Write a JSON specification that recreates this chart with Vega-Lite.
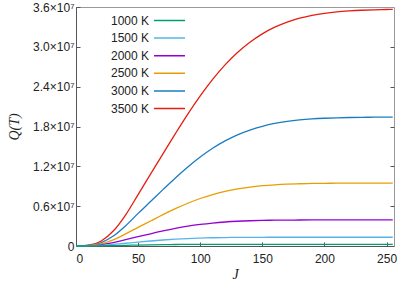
{
  "$schema": "https://vega.github.io/schema/vega-lite/v6.json",
  "width": 318,
  "height": 239,
  "autosize": {"type": "none"},
  "padding": {"left": 76, "top": 7, "right": 5, "bottom": 37},
  "config": {
    "view": {"stroke": "#999999", "strokeWidth": 1},
    "font": "Liberation Sans",
    "axis": {"grid": false, "labelFont": "Liberation Sans", "labelFontSize": 12, "labelColor": "#222222", "domainColor": "#555555", "tickColor": "#555555"},
    "legend": {"labelFont": "Liberation Sans", "labelFontSize": 12, "labelColor": "#222222"}
  },
  "data": {"values": [
    {"J":0,"T":"3500 K","Q":0},{"J":10,"T":"3500 K","Q":0.011e7},{"J":20,"T":"3500 K","Q":0.071e7},{"J":30,"T":"3500 K","Q":0.225e7},{"J":40,"T":"3500 K","Q":0.47e7},{"J":50,"T":"3500 K","Q":0.775e7},{"J":60,"T":"3500 K","Q":1.082e7},{"J":70,"T":"3500 K","Q":1.387e7},{"J":80,"T":"3500 K","Q":1.692e7},{"J":90,"T":"3500 K","Q":1.987e7},{"J":100,"T":"3500 K","Q":2.261e7},{"J":110,"T":"3500 K","Q":2.51e7},{"J":120,"T":"3500 K","Q":2.728e7},{"J":130,"T":"3500 K","Q":2.915e7},{"J":140,"T":"3500 K","Q":3.07e7},{"J":150,"T":"3500 K","Q":3.196e7},{"J":160,"T":"3500 K","Q":3.296e7},{"J":170,"T":"3500 K","Q":3.373e7},{"J":180,"T":"3500 K","Q":3.431e7},{"J":190,"T":"3500 K","Q":3.474e7},{"J":200,"T":"3500 K","Q":3.505e7},{"J":210,"T":"3500 K","Q":3.527e7},{"J":220,"T":"3500 K","Q":3.541e7},{"J":230,"T":"3500 K","Q":3.551e7},{"J":240,"T":"3500 K","Q":3.558e7},{"J":250,"T":"3500 K","Q":3.562e7},{"J":255,"T":"3500 K","Q":3.564e7},
    {"J":0,"T":"3000 K","Q":0},{"J":10,"T":"3000 K","Q":0.0075e7},{"J":20,"T":"3000 K","Q":0.0485e7},{"J":30,"T":"3000 K","Q":0.150e7},{"J":40,"T":"3000 K","Q":0.306e7},{"J":50,"T":"3000 K","Q":0.491e7},{"J":60,"T":"3000 K","Q":0.669e7},{"J":70,"T":"3000 K","Q":0.849e7},{"J":80,"T":"3000 K","Q":1.025e7},{"J":90,"T":"3000 K","Q":1.191e7},{"J":100,"T":"3000 K","Q":1.341e7},{"J":110,"T":"3000 K","Q":1.4725e7},{"J":120,"T":"3000 K","Q":1.583e7},{"J":130,"T":"3000 K","Q":1.675e7},{"J":140,"T":"3000 K","Q":1.747e7},{"J":150,"T":"3000 K","Q":1.803e7},{"J":160,"T":"3000 K","Q":1.846e7},{"J":170,"T":"3000 K","Q":1.877e7},{"J":180,"T":"3000 K","Q":1.899e7},{"J":190,"T":"3000 K","Q":1.914e7},{"J":200,"T":"3000 K","Q":1.924e7},{"J":210,"T":"3000 K","Q":1.931e7},{"J":220,"T":"3000 K","Q":1.9354e7},{"J":230,"T":"3000 K","Q":1.938e7},{"J":240,"T":"3000 K","Q":1.9398e7},{"J":250,"T":"3000 K","Q":1.9407e7},{"J":255,"T":"3000 K","Q":1.941e7},
    {"J":0,"T":"2500 K","Q":0},{"J":10,"T":"2500 K","Q":0.0048e7},{"J":20,"T":"2500 K","Q":0.0306e7},{"J":30,"T":"2500 K","Q":0.0923e7},{"J":40,"T":"2500 K","Q":0.1833e7},{"J":50,"T":"2500 K","Q":0.281e7},{"J":60,"T":"2500 K","Q":0.376e7},{"J":70,"T":"2500 K","Q":0.472e7},{"J":80,"T":"2500 K","Q":0.562e7},{"J":90,"T":"2500 K","Q":0.644e7},{"J":100,"T":"2500 K","Q":0.7155e7},{"J":110,"T":"2500 K","Q":0.775e7},{"J":120,"T":"2500 K","Q":0.823e7},{"J":130,"T":"2500 K","Q":0.860e7},{"J":140,"T":"2500 K","Q":0.8877e7},{"J":150,"T":"2500 K","Q":0.9079e7},{"J":160,"T":"2500 K","Q":0.922e7},{"J":170,"T":"2500 K","Q":0.9317e7},{"J":180,"T":"2500 K","Q":0.938e7},{"J":190,"T":"2500 K","Q":0.9421e7},{"J":200,"T":"2500 K","Q":0.9446e7},{"J":210,"T":"2500 K","Q":0.9461e7},{"J":220,"T":"2500 K","Q":0.9469e7},{"J":230,"T":"2500 K","Q":0.9474e7},{"J":240,"T":"2500 K","Q":0.9477e7},{"J":250,"T":"2500 K","Q":0.9479e7},{"J":255,"T":"2500 K","Q":0.948e7},
    {"J":0,"T":"2000 K","Q":0},{"J":10,"T":"2000 K","Q":0.00274e7},{"J":20,"T":"2000 K","Q":0.01734e7},{"J":30,"T":"2000 K","Q":0.0506e7},{"J":40,"T":"2000 K","Q":0.0963e7},{"J":50,"T":"2000 K","Q":0.1397e7},{"J":60,"T":"2000 K","Q":0.1842e7},{"J":70,"T":"2000 K","Q":0.2269e7},{"J":80,"T":"2000 K","Q":0.2654e7},{"J":90,"T":"2000 K","Q":0.2983e7},{"J":100,"T":"2000 K","Q":0.3252e7},{"J":110,"T":"2000 K","Q":0.3461e7},{"J":120,"T":"2000 K","Q":0.3617e7},{"J":130,"T":"2000 K","Q":0.3728e7},{"J":140,"T":"2000 K","Q":0.3805e7},{"J":150,"T":"2000 K","Q":0.3855e7},{"J":160,"T":"2000 K","Q":0.3886e7},{"J":170,"T":"2000 K","Q":0.39055e7},{"J":180,"T":"2000 K","Q":0.39168e7},{"J":190,"T":"2000 K","Q":0.3923e7},{"J":200,"T":"2000 K","Q":0.39266e7},{"J":210,"T":"2000 K","Q":0.3928e7},{"J":220,"T":"2000 K","Q":0.3929e7},{"J":230,"T":"2000 K","Q":0.393e7},{"J":240,"T":"2000 K","Q":0.393e7},{"J":250,"T":"2000 K","Q":0.393e7},{"J":255,"T":"2000 K","Q":0.393e7},
    {"J":0,"T":"1500 K","Q":0},{"J":10,"T":"1500 K","Q":0.0014e7},{"J":20,"T":"1500 K","Q":0.0087e7},{"J":30,"T":"1500 K","Q":0.0238e7},{"J":40,"T":"1500 K","Q":0.0413e7},{"J":50,"T":"1500 K","Q":0.0585e7},{"J":60,"T":"1500 K","Q":0.0752e7},{"J":70,"T":"1500 K","Q":0.0901e7},{"J":80,"T":"1500 K","Q":0.1025e7},{"J":90,"T":"1500 K","Q":0.1122e7},{"J":100,"T":"1500 K","Q":0.1193e7},{"J":110,"T":"1500 K","Q":0.1243e7},{"J":120,"T":"1500 K","Q":0.1275e7},{"J":130,"T":"1500 K","Q":0.1295e7},{"J":140,"T":"1500 K","Q":0.13066e7},{"J":150,"T":"1500 K","Q":0.13132e7},{"J":160,"T":"1500 K","Q":0.13167e7},{"J":170,"T":"1500 K","Q":0.1318e7},{"J":180,"T":"1500 K","Q":0.132e7},{"J":190,"T":"1500 K","Q":0.132e7},{"J":200,"T":"1500 K","Q":0.132e7},{"J":210,"T":"1500 K","Q":0.132e7},{"J":220,"T":"1500 K","Q":0.132e7},{"J":230,"T":"1500 K","Q":0.132e7},{"J":240,"T":"1500 K","Q":0.132e7},{"J":250,"T":"1500 K","Q":0.132e7},{"J":255,"T":"1500 K","Q":0.132e7},
    {"J":0,"T":"1000 K","Q":0},{"J":10,"T":"1000 K","Q":0.0004e7},{"J":20,"T":"1000 K","Q":0.0028e7},{"J":30,"T":"1000 K","Q":0.0068e7},{"J":40,"T":"1000 K","Q":0.01075e7},{"J":50,"T":"1000 K","Q":0.0146e7},{"J":60,"T":"1000 K","Q":0.0179e7},{"J":70,"T":"1000 K","Q":0.0205e7},{"J":80,"T":"1000 K","Q":0.0224e7},{"J":90,"T":"1000 K","Q":0.02355e7},{"J":100,"T":"1000 K","Q":0.02426e7},{"J":110,"T":"1000 K","Q":0.02464e7},{"J":120,"T":"1000 K","Q":0.02484e7},{"J":130,"T":"1000 K","Q":0.02493e7},{"J":140,"T":"1000 K","Q":0.025e7},{"J":150,"T":"1000 K","Q":0.025e7},{"J":160,"T":"1000 K","Q":0.025e7},{"J":170,"T":"1000 K","Q":0.025e7},{"J":180,"T":"1000 K","Q":0.025e7},{"J":190,"T":"1000 K","Q":0.025e7},{"J":200,"T":"1000 K","Q":0.025e7},{"J":210,"T":"1000 K","Q":0.025e7},{"J":220,"T":"1000 K","Q":0.025e7},{"J":230,"T":"1000 K","Q":0.025e7},{"J":240,"T":"1000 K","Q":0.025e7},{"J":250,"T":"1000 K","Q":0.025e7},{"J":255,"T":"1000 K","Q":0.025e7}
  ]},
  "layer": [
    {
      "mark": {"type": "line", "strokeWidth": 1.3, "interpolate": "monotone"},
      "encoding": {
        "x": {"field": "J", "type": "quantitative", "scale": {"domain": [0, 256], "nice": false},
              "axis": {"title": "J", "titleFont": "Liberation Serif", "titleFontStyle": "italic", "titleFontWeight": "normal", "titleFontSize": 14, "titleColor": "#222222", "titlePadding": 3, "values": [0, 50, 100, 150, 200, 250], "tickSize": -4, "labelPadding": 11}},
        "y": {"field": "Q", "type": "quantitative", "scale": {"domain": [0, 36000000], "nice": false},
              "axis": {"title": "Q(T)", "titleFont": "Liberation Serif", "titleFontStyle": "italic", "titleFontWeight": "normal", "titleFontSize": 14, "titleColor": "#222222", "titlePadding": 11, "values": [0, 6000000, 12000000, 18000000, 24000000, 30000000, 36000000], "labelExpr": "datum.value == 0 ? '0' : format(datum.value / 1e7, '.1f') + '×10⁷'", "tickSize": -4, "labelPadding": 6}},
        "color": {"field": "T", "type": "nominal",
                  "scale": {"domain": ["1000 K", "1500 K", "2000 K", "2500 K", "3000 K", "3500 K"], "range": ["#009e73", "#56b4e9", "#9400d3", "#e69f00", "#1a7cc0", "#e51e10"]},
                  "legend": {"title": null, "orient": "none", "legendX": 84, "legendY": 4, "symbolType": "M-1.824,0H1.824", "symbolSize": 289, "symbolStrokeWidth": 1.5, "labelAlign": "right", "labelOffset": -30, "rowPadding": 1.6, "padding": 0}}
      }
    },
    {
      "mark": {"type": "line", "opacity": 0},
      "encoding": {
        "x": {"field": "J", "type": "quantitative", "scale": {"domain": [0, 256], "nice": false}},
        "y": {"field": "Q", "type": "quantitative", "scale": {"domain": [0, 36000000], "nice": false},
              "axis": {"orient": "right", "title": null, "labels": false, "domain": false, "values": [6000000, 12000000, 18000000, 24000000, 30000000], "tickSize": -4}},
        "detail": {"field": "T", "type": "nominal"}
      }
    }
  ],
  "resolve": {"scale": {"y": "independent"}, "axis": {"y": "independent"}}
}
